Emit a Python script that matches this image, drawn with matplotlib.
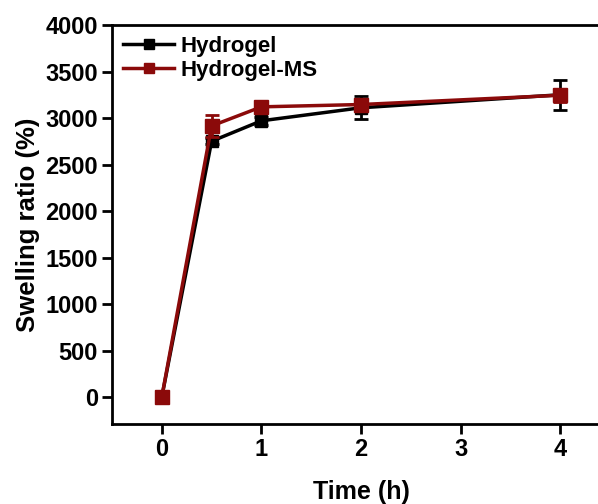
import matplotlib
matplotlib.use("Agg")
import matplotlib.pyplot as plt
from matplotlib.lines import Line2D

time_h = [0, 0.5, 1, 2, 4]
hydrogel = [0, 2750, 2970, 3110, 3250]
hydrogel_err = [0, 30, 40, 125, 160]
hydrogel_ms = [0, 2915, 3120, 3145, 3245]
hydrogel_ms_err = [0, 115, 40, 60, 70]

x_ticks = [0, 1, 2, 3, 4]
y_ticks = [0, 500, 1000, 1500, 2000, 2500, 3000, 3500, 4000]
labels = ['Hydrogel', 'Hydrogel-MS']

plt.rcParams['font.family'] = ['Liberation Sans', 'DejaVu Sans']
plt.rcParams['font.weight'] = 'bold'

fig = plt.figure(figsize=(5.98, 5.04), dpi=100)
ax = fig.add_axes([112/598, 1-424/504, (610-112)/598, (424-25)/504])

red = '#8B0A0A'
ax.errorbar(time_h, hydrogel, yerr=hydrogel_err, color='black', marker='s',
            markersize=9, linewidth=2.5, elinewidth=2, capsize=5, capthick=2,
            zorder=3)
ax.errorbar(time_h, hydrogel_ms, yerr=hydrogel_ms_err, color=red, marker='s',
            markersize=10, linewidth=2.5, elinewidth=2, capsize=5, capthick=2,
            zorder=4)

ax.set_xlim(-0.5, 4.5)
ax.set_ylim(-290, 4000)
ax.set_xticks(x_ticks)
ax.set_yticks(y_ticks)
ax.tick_params(axis='both', which='major', direction='out', length=7, width=2,
               labelsize=17, pad=3)
for lab in ax.get_xticklabels() + ax.get_yticklabels():
    lab.set_fontweight('bold')
for sp in ax.spines.values():
    sp.set_linewidth(2)
ax.spines['right'].set_visible(False)

ax.set_xlabel('Time (h)', fontsize=18, fontweight='bold', labelpad=14)
ax.set_ylabel('Swelling ratio (%)', fontsize=18.5, fontweight='bold', labelpad=4)

handles = [Line2D([], [], color='black', marker='s', markersize=7, linewidth=2.5),
           Line2D([], [], color=red, marker='s', markersize=7, linewidth=2.5)]
leg = ax.legend(handles, labels, loc='upper left', frameon=False, fontsize=16,
                handlelength=2.3, borderaxespad=0.1, handletextpad=0.3,
                labelspacing=0.12, bbox_to_anchor=(0.0, 1.0))
for t in leg.get_texts():
    t.set_fontweight('bold')

fig.savefig('out.png', dpi=100)
